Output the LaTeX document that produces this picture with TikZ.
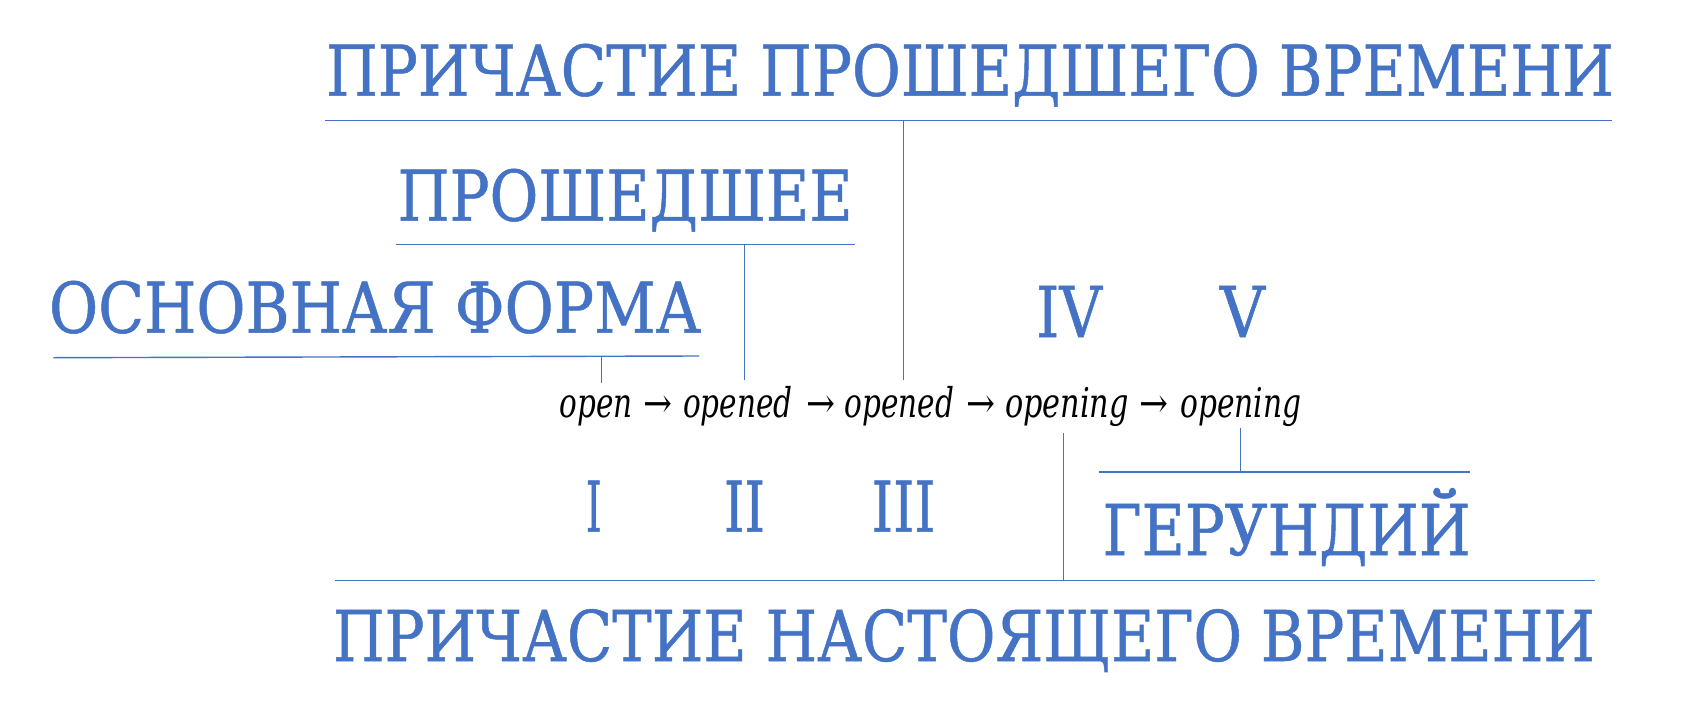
\documentclass[tikz,border=0pt]{standalone}
\usepackage{fontspec}
\setmainfont{DejaVu Serif}
\newfontfamily\headfont{DejaVu Serif}[FakeBold=0.8]
\usepackage{graphicx}
\definecolor{accblue}{RGB}{68,114,196}
\newcommand{\fitw}[2]{\resizebox{#1pt}{\height}{#2}}
\tikzset{
  big/.style={anchor=base west, inner sep=0pt, outer sep=0pt, text=accblue, font=\headfont\fontsize{70}{84}\selectfont},
  word/.style={anchor=base west, inner sep=0pt, outer sep=0pt, text=black, font=\fontsize{41}{50}\selectfont\itshape},
  arr/.style={anchor=base west, inner sep=0pt, outer sep=0pt, text=black, font=\fontsize{41}{50}\selectfont},
  rule/.style={draw=accblue, line width=1.4pt},
}
\begin{document}
\begin{tikzpicture}[x=1pt,y=-1pt]
\useasboundingbox[fill=white] (0,0) rectangle (1703,723);
% headings
\node[big] (t1) at (326,95.7) {\fitw{1288}{ПРИЧАСТИЕ ПРОШЕДШЕГО ВРЕМЕНИ}};
\node[big] (t2) at (397.7,220.7) {\fitw{455}{ПРОШЕДШЕЕ}};
\node[big] (t3) at (49,332.7) {\fitw{652}{ОСНОВНАЯ ФОРМА}};
\node[big] (n4) at (1036,337) {\fitw{66}{IV}};
\node[big] (n5) at (1220,337) {\fitw{45}{V}};
\node[big] (n1) at (585.8,531.7) {\fitw{16}{I}};
\node[big] (n2) at (724,531.7) {\fitw{41}{II}};
\node[big] (n3) at (871.7,531.7) {\fitw{64}{III}};
\node[big] (t4) at (1102.5,555) {\fitw{368}{ГЕРУНДИЙ}};
\node[big] (t5) at (333,661) {\fitw{1262}{ПРИЧАСТИЕ НАСТОЯЩЕГО ВРЕМЕНИ}};
% word chain
\node[word] (w1) at (559.6,417) {\fitw{73}{open}};
\node[arr]  (a1) at (643.6,417) {\fitw{29}{→}};
\node[word] (w2) at (683.2,417) {\fitw{109.5}{opened}};
\node[arr]  (a2) at (806.2,417) {\fitw{29}{→}};
\node[word] (w3) at (844.7,417) {\fitw{109.5}{opened}};
\node[arr]  (a3) at (966,417) {\fitw{29}{→}};
\node[word] (w4) at (1005,417) {\fitw{123.7}{opening}};
\node[arr]  (a4) at (1139.6,417) {\fitw{29}{→}};
\node[word] (w5) at (1180.2,417) {\fitw{121}{opening}};
% rule end points
\coordinate (l1a) at (325,120.7);   \coordinate (l1b) at (1612,120.7);
\coordinate (l2a) at (395.7,244.3); \coordinate (l2b) at (855.3,244.3);
\coordinate (l3a) at (53.4,357.7);  \coordinate (l3b) at (699.2,356);
\coordinate (l4a) at (1099,472);    \coordinate (l4b) at (1469.6,472);
\coordinate (l5a) at (334.5,580.3); \coordinate (l5b) at (1595,580.3);
% connector end points
\coordinate (v1a) at (903.7,120.7);  \coordinate (v1b) at (903.7,380);
\coordinate (v2a) at (744.5,244.3);  \coordinate (v2b) at (744.5,380);
\coordinate (v3a) at (601.6,356.6);  \coordinate (v3b) at (601.6,383.3);
\coordinate (v4a) at (1063.5,433.3); \coordinate (v4b) at (1063.5,580.3);
\coordinate (v5a) at (1240.4,428.3); \coordinate (v5b) at (1240.4,472);
% rules
\draw[rule] (l1a) -- (l1b);
\draw[rule] (l2a) -- (l2b);
\draw[rule] (l3a) -- (l3b);
\draw[rule] (l4a) -- (l4b);
\draw[rule] (l5a) -- (l5b);
% connectors
\draw[rule] (v1a) -- (v1b);
\draw[rule] (v2a) -- (v2b);
\draw[rule] (v3a) -- (v3b);
\draw[rule] (v4a) -- (v4b);
\draw[rule] (v5a) -- (v5b);
\end{tikzpicture}
\end{document}
